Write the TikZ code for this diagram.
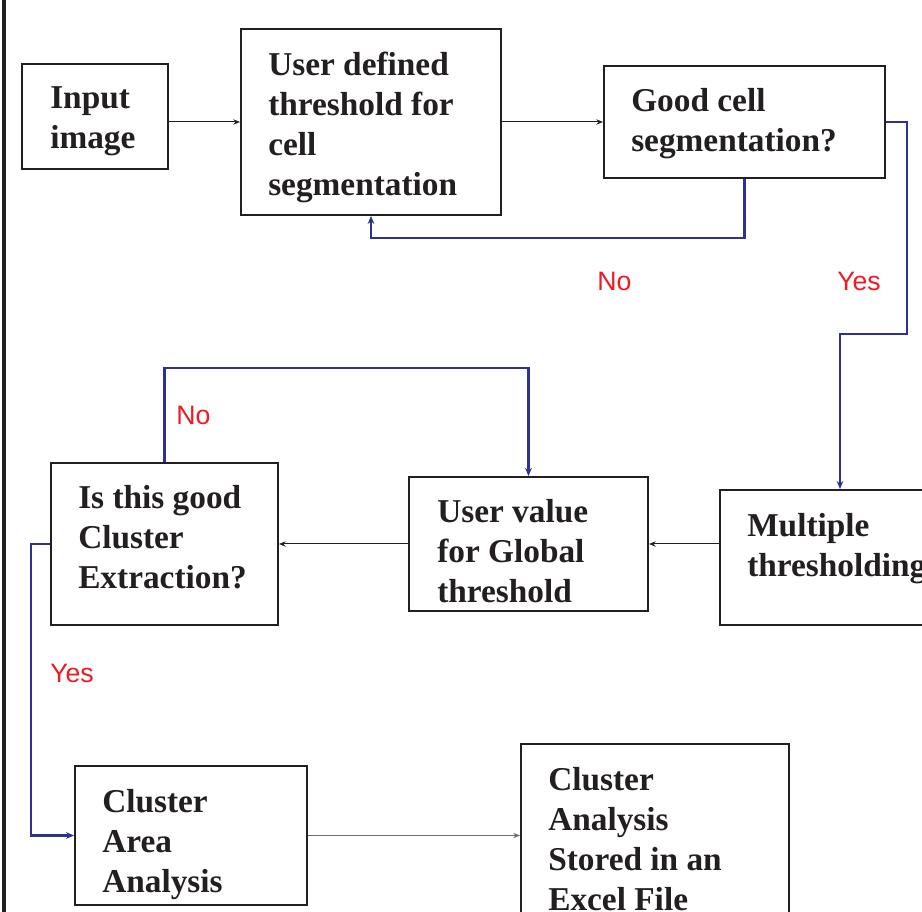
\documentclass[tikz,border=0pt]{standalone}
\usepackage{fontspec}
\setmainfont{Liberation Serif}
\newfontfamily\labelfont{Liberation Sans}
\usetikzlibrary{fit,arrows.meta}
\definecolor{ink}{HTML}{231F20}
\definecolor{flowblue}{HTML}{2E3192}
\definecolor{nored}{HTML}{ED1C24}
\definecolor{midgray}{HTML}{6D6E71}
\tikzset{
 box/.style={draw=ink, line width=1.5pt, inner sep=0pt, rectangle},
 txt/.style={anchor=base west, align=left, inner sep=0pt, text=ink, font=\fontsize{25}{30}\selectfont\bfseries},
 blk/.style={draw=ink, line width=0.75pt, -{Stealth[length=5pt,width=4pt]}},
 loopline/.style={draw=flowblue, line width=1.7pt, -{Stealth[length=6pt,width=5pt]}},
 lbl/.style={anchor=base west, inner sep=0pt, text=nored, font=\labelfont\fontsize{20}{24}\selectfont},
}
\begin{document}
\begin{tikzpicture}[x=0.75pt,y=-0.75pt]
\clip (0,0) rectangle (922,912);
\fill[white] (0,0) rectangle (922,912);
\draw[ink, line width=3pt] (4,-5) -- (4,920);
% boxes
\node[box, fit={(22,64) (168,169)}] (inp) {};
\node[box, fit={(241,29) (501,215)}] (udt) {};
\node[box, fit={(604,66) (885,178)}] (good) {};
\node[box, fit={(720,490) (960,625)}] (mult) {};
\node[box, fit={(409,477) (648,611)}] (uv) {};
\node[box, fit={(51,463) (278,625)}] (isg) {};
\node[box, fit={(75,766) (307,905)}] (caa) {};
\node[box, fit={(521,744) (789,926)}] (cas) {};
% texts (anchor = baseline of the last line)
\node[txt] (tinp) at (50,149) {Input\\image};
\node[txt] (tudt) at (268,196) {User defined\\threshold for\\cell\\segmentation};
\node[txt] (tgood) at (631,152) {Good cell\\segmentation?};
\node[txt] (tmult) at (747,577) {Multiple\\thresholding};
\node[txt] (tuv) at (437,603) {User value\\for Global\\threshold};
\node[txt] (tisg) at (78,589) {Is this good\\Cluster\\Extraction?};
\node[txt] (tcaa) at (102,893) {Cluster\\Area\\Analysis};
\node[txt] (tcas) at (548,910) {Cluster\\Analysis\\Stored in an\\Excel File};
% labels
\node[lbl] (no1) at (597,291) {No};
\node[lbl] (yes1) at (837,291) {Yes};
\node[lbl] (no2) at (176,425) {No};
\node[lbl] (yes2) at (50,683) {Yes};
% connectors
\coordinate (c1) at (907,334);
\coordinate (c2) at (31,544);
\draw[blk] (inp.east |- udt.west) -- (udt.west);
\draw[blk] (udt.east |- good.west) -- (good.west);
\draw[loopline] (good.south) -- ++(0,59) -| (udt.south);
\draw[loopline] (good.east) -| (c1) -| (mult.north);
\draw[blk] (mult.west |- uv.east) -- (uv.east);
\draw[blk] (uv.west) -- (isg.east);
\draw[loopline] (isg.north) -- ++(0,-94) -| (uv.north);
\draw[loopline] (isg.west) -- (c2) |- (caa.west);
\draw[blk, draw=midgray] (caa.east) -- (caa.east -| cas.west);
\end{tikzpicture}
\end{document}
